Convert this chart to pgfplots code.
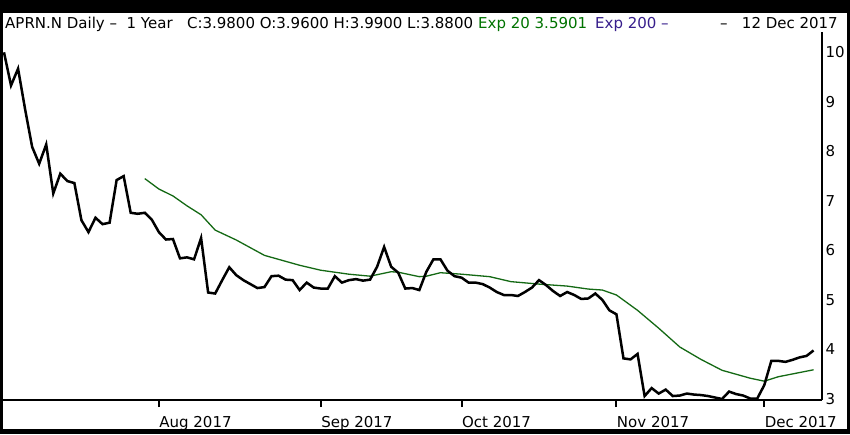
\documentclass[border=0pt]{standalone}
\usepackage{pgfplots}
\pgfplotsset{compat=1.18}
\usepackage{fontspec}
\setmainfont{DejaVu Sans}
\definecolor{emagreen}{RGB}{20,105,20}
\definecolor{titlegreen}{RGB}{0,115,0}
\definecolor{titlepurple}{RGB}{55,30,140}
\pgfplotstableread{
i v
0 10.00
1 9.33
2 9.67
3 8.85
4 8.09
5 7.75
6 8.14
7 7.15
8 7.55
9 7.40
10 7.36
11 6.61
12 6.37
13 6.66
14 6.53
15 6.56
16 7.42
17 7.50
18 6.76
19 6.74
20 6.76
21 6.62
22 6.37
23 6.22
24 6.23
25 5.84
26 5.86
27 5.82
28 6.25
29 5.15
30 5.13
31 5.40
32 5.66
33 5.50
34 5.40
35 5.32
36 5.24
37 5.26
38 5.48
39 5.49
40 5.41
41 5.40
42 5.20
43 5.35
44 5.25
45 5.23
46 5.23
47 5.48
48 5.35
49 5.40
50 5.42
51 5.39
52 5.41
53 5.67
54 6.07
55 5.67
56 5.55
57 5.23
58 5.24
59 5.20
60 5.57
61 5.82
62 5.82
63 5.59
64 5.48
65 5.45
66 5.35
67 5.35
68 5.32
69 5.25
70 5.16
71 5.10
72 5.10
73 5.08
74 5.16
75 5.25
76 5.40
77 5.30
78 5.18
79 5.08
80 5.16
81 5.10
82 5.02
83 5.03
84 5.13
85 5.00
86 4.79
87 4.71
88 3.82
89 3.80
90 3.91
91 3.06
92 3.22
93 3.11
94 3.19
95 3.06
96 3.07
97 3.11
98 3.09
99 3.08
100 3.06
101 3.03
102 3.00
103 3.15
104 3.10
105 3.07
106 3.01
107 3.01
108 3.28
109 3.77
110 3.77
111 3.75
112 3.79
113 3.84
114 3.87
115 3.98
}\pricetable
\pgfplotstableread{
i v
20 7.45
22 7.24
24 7.10
26 6.90
28 6.72
30 6.41
33 6.21
37 5.90
42 5.70
45 5.60
49 5.52
52 5.48
55 5.57
56 5.56
59 5.47
60 5.48
62 5.55
65 5.52
69 5.47
72 5.37
76 5.32
80 5.28
83 5.22
85 5.20
87 5.10
90 4.79
93 4.43
96 4.05
99 3.80
102 3.58
106 3.42
108 3.36
110 3.45
115 3.59
}\ematable
\begin{document}
\begin{tikzpicture}[x=1pt,y=1pt]
\useasboundingbox (0,0) rectangle (850,434);
\fill[black] (0,0) rectangle (850,434);
\fill[white] (3,5) rectangle (847,421);
\begin{axis}[at={(3pt,34pt)}, anchor=south west, scale only axis,
  width=819pt, height=368pt,
  xmin=-0.14, xmax=116.2, ymin=2.98, ymax=10.41,
  axis x line*=bottom, axis y line*=right,
  axis line style={line width=2.2pt,-},
  xtick={22,45,65,87,108},
  xticklabels={Aug 2017,Sep 2017,Oct 2017,Nov 2017,Dec 2017},
  ytick={3,4,5,6,7,8,9,10},
  tick align=outside, major tick length=7pt,
  xtick style={line width=2pt, black},
  ytick style={draw=none},
  xticklabel style={anchor=north west, xshift=-3pt, yshift=-6pt},
  yticklabel style={anchor=west, xshift=-7pt},
  tick label style={font=\fontsize{15}{18}\selectfont},
  /pgf/number format/assume math mode=true,
]
\addplot[emagreen, line width=1.3pt] table[x=i,y=v] {\ematable};
\addplot[black, line width=2.5pt, line join=miter] table[x=i,y=v] {\pricetable};
\end{axis}
\begin{scope}[every node/.style={anchor=base west, inner sep=0pt, font=\fontsize{15}{18}\selectfont}]
\node at (5,405) {APRN.N Daily –\ \ 1 Year\ \ \ C:3.9800 O:3.9600 H:3.9900 L:3.8800};
\node[text=titlegreen] at (478,405) {Exp 20 3.5901};
\node[text=titlepurple] at (595,405) {Exp 200 –};
\node[anchor=base east] at (838,405) {–\ \ \ 12 Dec 2017};
\end{scope}
\end{tikzpicture}
\end{document}
